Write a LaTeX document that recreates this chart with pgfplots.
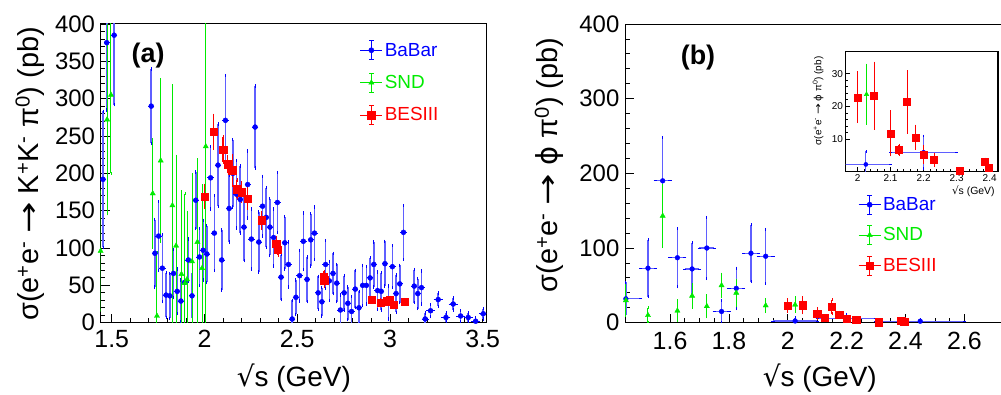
\documentclass[border=0pt]{standalone}
\usepackage{fontspec}
\setmainfont{Liberation Sans}
\newfontfamily\dejavu{DejaVu Sans}
\usepackage{pgfplots}
\usepackage{pgfplotstable}
\pgfplotsset{compat=1.18}
\definecolor{cB}{RGB}{0,0,255}
\definecolor{cBl}{RGB}{95,95,255}
\definecolor{cG}{RGB}{0,235,0}
\definecolor{cR}{RGB}{255,0,0}
\newcommand{\arr}{\scalebox{1.3}[1]{\dejavu →}}
\newcommand{\rs}{{\dejavu √}}

\pgfplotstableread{
x y ex ey
1.453 192 0.008 91
1.473 375 0.008 90
1.513 385 0.008 93
1.713 290 0.008 50
1.733 93 0.008 45
1.753 116 0.008 46
1.773 73 0.008 45
1.793 37 0.008 30
1.813 36 0.008 30
1.833 66 0.008 32
1.853 42 0.008 30
1.873 29 0.008 28
1.893 54 0.008 32
1.913 84 0.008 28
1.933 36 0.008 30
1.953 164 0.008 38
1.973 88 0.008 38
1.993 97 0.008 40
2.013 92 0.008 38
2.033 194 0.008 42
2.053 120 0.008 50
2.073 211 0.008 55
2.093 84 0.008 40
2.113 271 0.008 60
2.133 153 0.008 45
2.153 200 0.008 45
2.173 172 0.008 45
2.193 165 0.008 45
2.213 128 0.008 45
2.233 185 0.008 45
2.253 112 0.008 40
2.273 262 0.008 55
2.293 108 0.008 40
2.313 156 0.008 40
2.333 141 0.008 40
2.353 128 0.008 38
2.373 114 0.008 38
2.393 161 0.008 40
2.413 61 0.008 30
2.433 107 0.008 35
2.453 78 0.008 30
2.473 5 0.008 25
2.493 34 0.008 23
2.513 63 0.008 34
2.533 109 0.008 38
2.553 58 0.008 30
2.573 111 0.008 35
2.593 120 0.008 35
2.613 40 0.008 22
2.633 28 0.008 19
2.653 78 0.008 32
2.673 56 0.008 26
2.693 66 0.008 27
2.713 53 0.008 25
2.733 17 0.008 20
2.753 40 0.008 23
2.773 26 0.008 22
2.793 15 0.008 20
2.813 45 0.008 25
2.833 20 0.008 22
2.853 50 0.008 27
2.873 50 0.008 25
2.893 60 0.008 27
2.913 78 0.008 30
2.933 43 0.008 25
2.953 42 0.008 25
2.973 79 0.008 30
2.993 27 0.008 22
3.013 75 0.008 28
3.033 39 0.008 25
3.053 52 0.008 25
3.073 121 0.008 36
3.131 49 0.008 22
3.150 39 0.008 20
3.170 47 0.008 22
3.190 5 0.010 8
3.219 16 0.015 8
3.260 31 0.015 9
3.302 7 0.015 6
3.341 25 0.015 8
3.381 9 0.015 7
3.422 7 0.015 6
3.462 2 0.015 5
3.503 12 0.015 7
}\babarA

\pgfplotstableread{
x y ey
1.440 96 80
1.475 272 126
1.496 305 105
1.721 173 72
1.744 9 85
1.764 217 108
1.827 157 160
1.847 103 120
1.876 65 110
1.895 53 120
1.906 58 90
1.933 82 116
1.962 108 110
1.987 73 110
2.007 236 240
}\sndA

\pgfplotstableread{
x y ey
2.000 169 15
2.050 256 22
2.100 232 17
2.125 212 10
2.150 204 20
2.175 179 12
2.200 175 12
2.232 166 13
2.309 137 11
2.386 106 8
2.396 98 8
2.644 61 8
2.646 57 8
2.900 31 3
2.950 27 4
2.981 29 4
3.000 30 4
3.020 24 4
3.080 28 3
}\besA

\pgfplotstableread{
x y ex ey
1.450 32 0.05 22
1.525 73 0.025 38
1.575 190 0.025 58
1.625 87 0.025 39
1.675 72 0.025 35
1.725 100 0.025 41
1.775 15 0.025 15
1.825 46 0.025 27
1.875 93 0.025 38
1.925 89 0.025 36
2.025 2.3 0.075 4
2.200 6 0.1 5
2.450 2 0.15 2
}\babarB

\pgfplotstableread{
x y ey
1.450 30 20
1.525 10 10
1.575 143 41
1.625 16 13
1.675 36 15
1.725 22 14
1.775 50 15
1.825 40 17
1.925 23 8
2.025 24 9
}\sndB

\pgfplotstableread{
x y ey
2.000 22.8 7.5
2.050 23.3 10
2.100 11.8 6.7
2.125 6.7 1.5
2.150 21.4 9.3
2.175 10.6 3.5
2.200 5.4 2.5
2.232 3.7 1.8
2.309 0.5 0.5
2.386 3.0 1.0
2.396 1.3 1.0
}\besB

\pgfplotstableread{
x y ex ey
2.025 2.3 0.075 4
2.200 6.0 0.1 5
}\babarI

\pgfplotstableread{
x y ey
2.027 23.7 9
}\sndI

\pgfplotsset{
  rootax/.style={scale only axis, tick align=inside, xtick pos=left, ytick pos=left,
    axis line style={line width=1bp, black}, every tick/.style={black, line width=0.8bp},
    major tick length=9bp, minor tick length=4.5bp,
    /pgf/number format/assume math mode=true, axis background/.style={fill=white}},
  legB/.style={legend image code/.code={
    \draw[cB, line width=0.9bp] (-11bp,0bp) -- (11bp,0bp) (0bp,-9.5bp) -- (0bp,9.5bp)
      (-2.2bp,-9.5bp) -- (2.2bp,-9.5bp) (-2.2bp,9.5bp) -- (2.2bp,9.5bp);
    \draw[cB, mark=*, mark size=2.6bp] plot coordinates {(0bp,0bp)};}},
  legG/.style={legend image code/.code={
    \draw[cG, line width=0.9bp] (-11bp,0bp) -- (11bp,0bp) (0bp,-9.5bp) -- (0bp,9.5bp)
      (-2.2bp,-9.5bp) -- (2.2bp,-9.5bp) (-2.2bp,9.5bp) -- (2.2bp,9.5bp);
    \draw[cG, mark=triangle*, mark size=3bp] plot coordinates {(0bp,0bp)};}},
  legR/.style={legend image code/.code={
    \draw[cR, line width=0.9bp] (-11bp,0bp) -- (11bp,0bp) (0bp,-9.5bp) -- (0bp,9.5bp)
      (-2.2bp,-9.5bp) -- (2.2bp,-9.5bp) (-2.2bp,9.5bp) -- (2.2bp,9.5bp);
    \draw[cR, mark=square*, mark size=3.8bp] plot coordinates {(0bp,0bp)};}},
}

\begin{document}
\begin{tikzpicture}[x=1bp,y=1bp]
\useasboundingbox (0,0) rectangle (1001,394);

% ---------------- panel (a)
\begin{axis}[rootax,
  at={(100.6bp,71.3bp)}, anchor=south west, width=385.8bp, height=298.7bp,
  xmin=1.44, xmax=3.52, ymin=0, ymax=400,
  xtick={1.5,2,2.5,3,3.5}, minor x tick num=4,
  ytick={0,50,...,400}, minor y tick num=4,
  xticklabel style={font=\fontsize{25}{25}\selectfont, inner sep=7bp},
  yticklabel style={font=\fontsize{24}{24}\selectfont, inner sep=5.5bp},
  xlabel={\rs s (GeV)},
  ylabel={σ(e\textsuperscript{+}e\textsuperscript{-} \arr\ K\textsuperscript{+}K\textsuperscript{-} π\textsuperscript{0}) (pb)},
  xlabel style={at={(axis description cs:0.501,-0.185)}, anchor=center, font=\fontsize{28}{28}\selectfont},
  ylabel style={at={(axis description cs:-0.183,0.498)}, anchor=center, font=\fontsize{29}{29}\selectfont},
  legend style={at={(axis description cs:0.6716,0.946)}, anchor=north west, draw=none, fill=none,
    inner sep=0pt, font=\fontsize{19}{19}\selectfont, row sep=12.5bp, cells={anchor=west}},
]
\addplot[legB, only marks, mark=*, mark size=2.5bp, color=cB,
  error bars/.cd, x dir=both, x explicit, y dir=both, y explicit,
  error bar style={line width=1.6bp, cBl},
  error mark options={line width=0.9bp, cB, mark size=1.7bp}]
  table[x=x, y=y, x error=ex, y error=ey] {\babarA};
\addlegendentry[text=cB]{BaBar}
\addplot[legG, only marks, mark=triangle*, mark size=3bp, color=cG,
  error bars/.cd, y dir=both, y explicit,
  error bar style={line width=1bp, cG},
  error mark options={line width=0.8bp, cG, mark size=1.6bp}]
  table[x=x, y=y, y error=ey] {\sndA};
\addlegendentry[text=cG]{SND}
\addplot[legR, only marks, mark=square*, mark size=3.7bp, color=cR,
  error bars/.cd, y dir=both, y explicit,
  error bar style={line width=1.1bp, cR},
  error mark options={line width=0.8bp, cR, mark size=1.6bp}]
  table[x=x, y=y, y error=ey] {\besA};
\addlegendentry[text=cR]{BESIII}
\node[font=\bfseries\fontsize{27}{27}\selectfont] at (axis cs:1.696,358) {(a)};
\end{axis}

% ---------------- panel (b)
\begin{axis}[rootax,
  at={(625bp,71.3bp)}, anchor=south west, width=377.6bp, height=298.7bp,
  xmin=1.447, xmax=2.73, ymin=0, ymax=400,
  xtick={1.6,1.8,2,2.2,2.4,2.6}, minor x tick num=3,
  ytick={0,100,...,400}, minor y tick num=4,
  xticklabel style={font=\fontsize{25}{25}\selectfont, inner sep=9bp},
  yticklabel style={font=\fontsize{24}{24}\selectfont, inner sep=5.5bp},
  xlabel={\rs s (GeV)},
  ylabel={σ(e\textsuperscript{+}e\textsuperscript{-} \arr\ {\dejavu ϕ} π\textsuperscript{0}) (pb)},
  xlabel style={at={(axis description cs:0.516,-0.185)}, anchor=center, font=\fontsize{28}{28}\selectfont},
  ylabel style={at={(axis description cs:-0.2005,0.528)}, anchor=center, font=\fontsize{29}{29}\selectfont},
  legend style={at={(axis description cs:0.617,0.429)}, anchor=north west, draw=none, fill=none,
    inner sep=0pt, font=\fontsize{19}{19}\selectfont, row sep=10.5bp, cells={anchor=west}},
]
\addplot[legB, only marks, mark=*, mark size=2.4bp, color=cB,
  error bars/.cd, x dir=both, x explicit, y dir=both, y explicit,
  error bar style={line width=1.3bp, cBl},
  error mark options={line width=0.8bp, cB, mark size=1.6bp}]
  table[x=x, y=y, x error=ex, y error=ey] {\babarB};
\addlegendentry[text=cB]{BaBar}
\addplot[legG, only marks, mark=triangle*, mark size=3bp, color=cG,
  error bars/.cd, y dir=both, y explicit,
  error bar style={line width=1bp, cG},
  error mark options={line width=0.8bp, cG, mark size=1.6bp}]
  table[x=x, y=y, y error=ey] {\sndB};
\addlegendentry[text=cG]{SND}
\addplot[legR, only marks, mark=square*, mark size=3.7bp, color=cR,
  error bars/.cd, y dir=both, y explicit,
  error bar style={line width=1.1bp, cR},
  error mark options={line width=0.8bp, cR, mark size=1.6bp}]
  table[x=x, y=y, y error=ey] {\besB};
\addlegendentry[text=cR]{BESIII}
\node[font=\bfseries\fontsize{27}{27}\selectfont] at (axis cs:1.695,355.5) {(b)};
\end{axis}

% ---------------- inset
\begin{axis}[rootax,
  at={(845.7bp,222.7bp)}, anchor=south west, width=152.5bp, height=119.6bp,
  xmin=1.964, xmax=2.426, ymin=0.2, ymax=36.7,
  axis line style={line width=1.5bp, black},
  major tick length=4.5bp, minor tick length=2.2bp,
  xtick={2,2.1,2.2,2.3,2.4}, minor x tick num=4,
  ytick={10,20,30}, minor y tick num=4,
  xticklabel style={font=\fontsize{10}{10}\selectfont, inner sep=3bp},
  yticklabel style={font=\fontsize{10}{10}\selectfont, inner sep=2.5bp},
  xlabel={\rs s (GeV)},
  ylabel={σ(e\textsuperscript{+}e\textsuperscript{-} \arr\ {\dejavu ϕ} π\textsuperscript{0}) (pb)},
  xlabel style={at={(axis description cs:1.0,-0.165)}, anchor=east, font=\fontsize{10.5}{10.5}\selectfont},
  ylabel style={at={(axis description cs:-0.181,0.588)}, anchor=center, font=\fontsize{10}{10}\selectfont},
]
\addplot[only marks, mark=*, mark size=2.1bp, color=cB,
  error bars/.cd, x dir=both, x explicit, y dir=both, y explicit,
  error bar style={line width=1.1bp, cBl},
  error mark options={line width=0.7bp, cB, mark size=1.2bp}]
  table[x=x, y=y, x error=ex, y error=ey] {\babarI};
\addplot[only marks, mark=triangle*, mark size=2.6bp, color=cG,
  error bars/.cd, y dir=both, y explicit,
  error bar style={line width=0.9bp, cG},
  error mark options={line width=0.7bp, cG, mark size=1.2bp}]
  table[x=x, y=y, y error=ey] {\sndI};
\addplot[only marks, mark=square*, mark size=3.5bp, color=cR,
  error bars/.cd, y dir=both, y explicit,
  error bar style={line width=0.9bp, cR},
  error mark options={line width=0.7bp, cR, mark size=1.2bp}]
  table[x=x, y=y, y error=ey] {\besB};
\end{axis}
\end{tikzpicture}
\end{document}
